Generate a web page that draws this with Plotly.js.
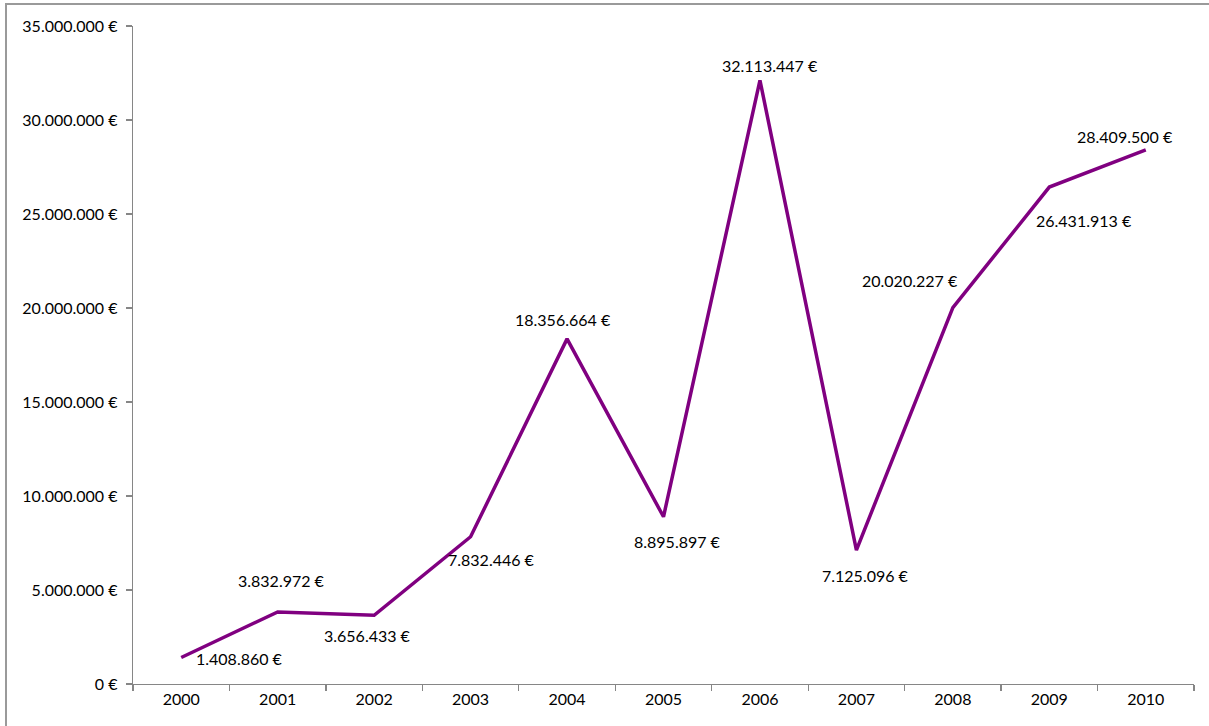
<!DOCTYPE html>
<html>
<head>
<meta charset="utf-8">
<script src="https://cdn.plot.ly/plotly-3.0.1.min.js"></script>
<style>
html,body{margin:0;padding:0;background:#fff;overflow:hidden;}
#frame{position:absolute;left:5px;top:3px;width:1210px;height:730px;border-top:2px solid #9a9a9a;border-left:2px solid #9a9a9a;}
#chart{position:absolute;left:0;top:0;width:1209px;height:726px;}
</style>
</head>
<body>
<div id="frame"></div>
<div id="chart"></div>
<script>
const years = ['2000','2001','2002','2003','2004','2005','2006','2007','2008','2009','2010'];
const values = [1408860, 3832972, 3656433, 7832446, 18356664, 8895897, 32113447, 7125096, 20020227, 26431913, 28409500];
// label offsets in pixels (style only)
const labelDx = [58, 4, -7, 21, -4, 14, 10, 9, -43, 35, -21];
const labelDy = [-1, 31, -20, -23, 19, -25, 15, -25, 27, -33, 13];

function fmt(v){
  return String(v).replace(/\B(?=(\d{3})+(?!\d))/g, '.') + ' €';
}

const FONT = 'Lato, "Open Sans", sans-serif';

const trace = {
  x: years,
  y: values,
  type: 'scatter',
  mode: 'lines',
  line: {color: '#800080', width: 3.5},
  hoverinfo: 'skip'
};

// category axis: annotations are placed by category index
const annotations = years.map((yr, i) => ({
  x: i, y: values[i], xref: 'x', yref: 'y',
  text: fmt(values[i]),
  showarrow: false,
  xanchor: 'center', yanchor: 'middle',
  xshift: labelDx[i], yshift: labelDy[i],
  font: {family: FONT, size: 16, color: '#000'}
}));

const layout = {
  width: 1209, height: 726,
  margin: {l: 133, r: 15, t: 26, b: 42, pad: 0},
  paper_bgcolor: 'rgba(0,0,0,0)',
  plot_bgcolor: 'rgba(0,0,0,0)',
  showlegend: false,
  separators: ',.',
  font: {family: FONT, size: 16, color: '#000'},
  xaxis: {
    type: 'category',
    tickson: 'boundaries',
    ticks: 'outside', ticklen: 6, tickcolor: '#868686', tickwidth: 1.3,
    showline: true, linecolor: '#868686', linewidth: 1.3,
    showgrid: false, zeroline: false,
    range: [-0.5, 10.5],
    tickfont: {size: 16},
    fixedrange: true
  },
  yaxis: {
    range: [0, 35000000],
    dtick: 5000000,
    tickformat: ',d',
    ticksuffix: ' €',
    ticks: 'outside', ticklen: 6, tickcolor: '#868686', tickwidth: 1.3,
    showline: true, linecolor: '#868686', linewidth: 1.3,
    showgrid: false, zeroline: false,
    ticklabelstandoff: 5,
    tickfont: {size: 16},
    fixedrange: true
  },
  annotations: annotations
};

Plotly.newPlot('chart', [trace], layout, {staticPlot: true, displayModeBar: false});
</script>
</body>
</html>
